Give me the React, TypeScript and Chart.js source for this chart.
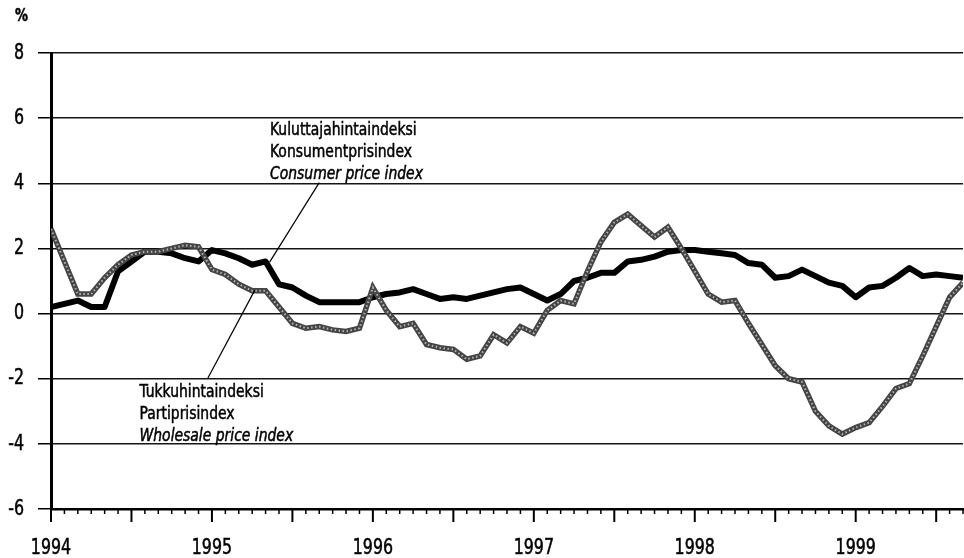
import React, { useEffect, useRef } from "react";
import { Chart, registerables } from "chart.js";

Chart.register(...registerables);

// ---- data (monthly, Jan 1994 .. Sep 1999) ----
const START_YEAR = 1994;
const yearLabels = ["1994", "1995", "1996", "1997", "1998", "1999"];
const yTickValues = [8, 6, 4, 2, 0, -2, -4, -6];

const consumerPriceIndex = [
  0.2, 0.3, 0.4, 0.2, 0.2, 1.3, 1.6, 1.9, 1.9, 1.85, 1.7, 1.6, // 1994
  1.95, 1.85, 1.7, 1.5, 1.6, 0.9, 0.8, 0.55, 0.35, 0.35, 0.35, 0.35, // 1995
  0.5, 0.6, 0.65, 0.75, 0.6, 0.45, 0.5, 0.45, 0.55, 0.65, 0.75, 0.8, // 1996
  0.6, 0.4, 0.6, 1.0, 1.1, 1.25, 1.25, 1.6, 1.65, 1.75, 1.9, 1.95, // 1997
  1.95, 1.9, 1.85, 1.8, 1.55, 1.5, 1.1, 1.15, 1.35, 1.15, 0.95, 0.85, // 1998
  0.5, 0.8, 0.85, 1.1, 1.4, 1.15, 1.2, 1.15, 1.1, // 1999
];

const wholesalePriceIndex = [
  2.6, 1.6, 0.6, 0.6, 1.1, 1.5, 1.8, 1.9, 1.9, 2.0, 2.1, 2.05, // 1994
  1.35, 1.2, 0.9, 0.7, 0.7, 0.2, -0.3, -0.45, -0.4, -0.5, -0.55, -0.45, // 1995
  0.8, 0.1, -0.4, -0.3, -0.95, -1.05, -1.1, -1.4, -1.3, -0.65, -0.9, -0.4, // 1996
  -0.6, 0.1, 0.4, 0.3, 1.3, 2.2, 2.8, 3.05, 2.7, 2.35, 2.65, 2.0, // 1997
  1.3, 0.6, 0.35, 0.4, -0.3, -0.95, -1.6, -2.0, -2.1, -3.0, -3.45, -3.7, // 1998
  -3.5, -3.35, -2.85, -2.3, -2.15, -1.3, -0.4, 0.5, 0.95, // 1999
];

const consumerLabel = ["Kuluttajahintaindeksi", "Konsumentprisindex", "Consumer price index"];
const wholesaleLabel = ["Tukkuhintaindeksi", "Partiprisindex", "Wholesale price index"];

// annotation anchors in data units (month index, %)
const consumerTextAt = { x: 16.33, y: 5.63 };
const consumerLeader = [{ x: 20.0, y: 4.02 }, { x: 16.3, y: 1.58 }];
const wholesaleTextAt = { x: 6.6, y: -2.41 };
const wholesaleLeader = [{ x: 11.7, y: -1.98 }, { x: 15.2, y: 0.72 }];

const FONT = "'Liberation Sans Narrow', 'Arial Narrow', 'DejaVu Sans Condensed', sans-serif";

function drawText(ctx: any, text: string, x: number, y: number, align: string, font: string, sx: number) {
  ctx.save();
  ctx.font = font;
  ctx.textAlign = align;
  ctx.textBaseline = "middle";
  ctx.fillStyle = "#000";
  ctx.strokeStyle = "#000";
  ctx.lineWidth = 0.5;
  ctx.translate(x, y);
  ctx.scale(sx, 1);
  ctx.fillText(text, 0, 0);
  ctx.strokeText(text, 0, 0);
  ctx.restore();
}

const decorPlugin = {
  id: "decor",
  afterDraw(chart: any) {
    const { ctx, chartArea } = chart;
    const xs = chart.scales.x;
    const ys = chart.scales.y;
    const n = consumerPriceIndex.length;
    ctx.save();
    // month tick marks below the axis
    ctx.strokeStyle = "#000";
    for (let m = 0; m < n; m++) {
      const px = xs.getPixelForValue(m);
      const len = m % 6 === 0 ? 13 : 5;
      ctx.lineWidth = m % 6 === 0 ? 2 : 1.5;
      ctx.beginPath();
      ctx.moveTo(px, chartArea.bottom);
      ctx.lineTo(px, chartArea.bottom + len);
      ctx.stroke();
    }
    ctx.restore();

    // axis tick labels (condensed)
    yTickValues.forEach((v) => {
      drawText(ctx, String(v), chartArea.left - 27, ys.getPixelForValue(v), "right", `22px ${FONT}`, 0.8);
    });
    yearLabels.forEach((lab, k) => {
      drawText(ctx, lab, xs.getPixelForValue(k * 12), chartArea.bottom + 39, "center", `22px ${FONT}`, 0.8);
    });

    // % unit label
    drawText(ctx, "%", chartArea.left - 36, chartArea.top - 37, "left", `bold 18px ${FONT}`, 0.8);

    // leader lines
    ctx.save();
    ctx.strokeStyle = "#000";
    ctx.lineWidth = 1.2;
    const leader = (pts: { x: number; y: number }[]) => {
      ctx.beginPath();
      ctx.moveTo(xs.getPixelForValue(pts[0].x), ys.getPixelForValue(pts[0].y));
      ctx.lineTo(xs.getPixelForValue(pts[1].x), ys.getPixelForValue(pts[1].y));
      ctx.stroke();
    };
    leader(consumerLeader);
    leader(wholesaleLeader);
    ctx.restore();

    // text blocks
    const block = (lines: string[], at: { x: number; y: number }) => {
      const x0 = xs.getPixelForValue(at.x);
      const y0 = ys.getPixelForValue(at.y);
      lines.forEach((t, i) => {
        drawText(ctx, t, x0, y0 + i * 22, "left", `${i === 2 ? "italic " : ""}18px ${FONT}`, 0.86);
      });
    };
    block(consumerLabel, consumerTextAt);
    block(wholesaleLabel, wholesaleTextAt);
  },
};

export default function App() {
  const ref = useRef<HTMLCanvasElement>(null);
  useEffect(() => {
    if (!ref.current) return;
    const n = consumerPriceIndex.length;
    const chart = new Chart(ref.current, {
      type: "line",
      data: {
        datasets: [
          {
            label: "Wholesale price index",
            data: wholesalePriceIndex.map((v, i) => ({ x: i, y: v })),
            borderColor: "#b5b5b5",
            borderWidth: 2,
            borderDash: [1.5, 2.5],
            pointRadius: 0,
            tension: 0,
            order: 0,
          },
          {
            label: "Wholesale price index",
            data: wholesalePriceIndex.map((v, i) => ({ x: i, y: v })),
            borderColor: "#454545",
            borderWidth: 5.5,
            pointRadius: 0,
            tension: 0,
            order: 1,
          },
          {
            label: "Consumer price index",
            data: consumerPriceIndex.map((v, i) => ({ x: i, y: v })),
            borderColor: "#000",
            borderWidth: 6,
            pointRadius: 0,
            tension: 0,
            borderJoinStyle: "round",
            order: 2,
          },
        ],
      },
      options: {
        animation: false,
        responsive: false,
        layout: { padding: { top: 53, right: 1, left: 0, bottom: 0 } },
        plugins: { legend: { display: false }, tooltip: { enabled: false } },
        scales: {
          x: {
            type: "linear",
            min: 0,
            max: n - 1,
            afterFit: (s: any) => {
              s.height = 49;
            },
            ticks: {
              display: false,
              stepSize: 12,
              includeBounds: false,
              callback: (v: any) => {
                const k = Number(v);
                return k % 12 === 0 ? String(START_YEAR + k / 12) : "";
              },
            },
            grid: { drawOnChartArea: false, drawTicks: false },
            border: { display: true, color: "#000", width: 2.5 },
          },
          y: {
            min: -6,
            max: 8,
            afterFit: (s: any) => {
              s.width = 51;
            },
            afterBuildTicks: (s: any) => {
              s.ticks = yTickValues.map((v) => ({ value: v }));
            },
            ticks: {
              display: false,
              callback: (v: any) => String(v),
            },
            grid: { color: "#161616", lineWidth: 1.5, tickLength: 13, tickColor: "#000" },
            border: { display: true, color: "#000", width: 3 },
          },
        },
      },
      plugins: [decorPlugin],
    });
    return () => chart.destroy();
  }, []);
  return (
    <div style={{ position: "absolute", left: 0, top: 0, width: 964, height: 558, background: "#fff" }}>
      <canvas ref={ref} width={964} height={558} style={{ display: "block" }} />
    </div>
  );
}
